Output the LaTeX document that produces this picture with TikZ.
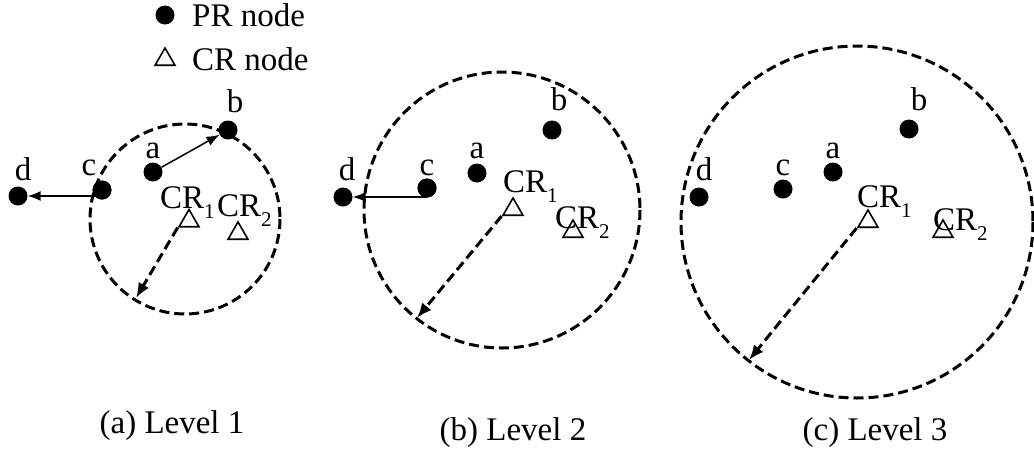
\documentclass[tikz,border=0pt]{standalone}
\usepackage{fontspec}
\setmainfont{Liberation Serif}
\usetikzlibrary{shapes.geometric,arrows.meta}
\newcommand{\Sb}[1]{\raisebox{-10pt}{\fontsize{21}{21}\selectfont #1}}
\begin{document}
\begin{tikzpicture}[x=1pt,y=-1pt,
  pr/.style={circle,fill=black,minimum size=19pt,inner sep=0pt},
  crn/.style={regular polygon,regular polygon sides=3,draw,line width=1.6pt,minimum size=23pt,inner sep=0pt},
  lbl/.style={inner sep=0pt,anchor=base,font=\fontsize{33}{38}\selectfont},
  lblw/.style={lbl,anchor=base west},
  rangecirc/.style={draw,line width=3pt,dash pattern=on 10pt off 5pt},
  move/.style={line width=1.5pt,-{Latex[length=13pt,width=10pt]}},
  radarrow/.style={line width=3pt,dash pattern=on 10pt off 5pt,-{Latex[length=15pt,width=12pt]}}]
\useasboundingbox (0,0) rectangle (1034,448);

% legend
\node[pr] (lgpr) at (165,15) {};
\node[lblw] (lgprt) at (192,26) {PR node};
\node[crn] (lgcr) at (165,59.5) {};
\node[lblw] (lgcrt) at (192,70) {CR node};

% ---------- panel (a)
\coordinate (oa) at (185,219);
\draw[rangecirc] (oa) circle[radius=95];
\coordinate (ea) at (136,298);
\node[crn] (a1) at (189,221) {};
\node[crn] (a2) at (238,233.5) {};
\node[pr] (aa) at (153,172) {};
\node[pr] (ab) at (228,130) {};
\node[pr] (ac) at (102,190) {};
\node[pr] (ad) at (18,196) {};
\draw[move] (aa) -- (ab);
\draw[move] (ac.center |- ad.center) -- (ad);
\draw[radarrow] (a1.corner 2) -- (ea);
\node[pr] at (ac) {};
\node[lbl] (aal) at (153,158) {a};
\node[lbl] (abl) at (235,112) {b};
\node[lbl] (acl) at (89,175) {c};
\node[lbl] (adl) at (23,180) {d};
\node[lblw] (a1l) at (160,208) {CR\Sb{1}};
\node[lblw] (a2l) at (217,216) {CR\Sb{2}};
\node[lbl] (capa) at (172,433) {(a) Level 1};

% ---------- panel (b)
\coordinate (ob) at (502,210);
\draw[rangecirc] (ob) circle[radius=138];
\coordinate (eb) at (417,318);
\node[crn] (b1) at (513,209.5) {};
\node[crn] (b2) at (573,231.5) {};
\node[pr] (ba) at (477,173) {};
\node[pr] (bb) at (552,130) {};
\node[pr] (bc) at (427,188) {};
\node[pr] (bd) at (343,197) {};
\draw[move] (bc.center |- bd.center) -- (bd);
\draw[radarrow] (b1.corner 2) -- (eb);
\node[pr] at (bc) {};
\node[lbl] (bal) at (477,158) {a};
\node[lbl] (bbl) at (559,110) {b};
\node[lbl] (bcl) at (427,175) {c};
\node[lbl] (bdl) at (347,180) {d};
\node[lblw] (b1l) at (503,192) {CR\Sb{1}};
\node[lblw] (b2l) at (555,228) {CR\Sb{2}};
\node[lbl] (capb) at (513,440) {(b) Level 2};

% ---------- panel (c)
\coordinate (oc) at (857,222);
\draw[rangecirc] (oc) circle[radius=176];
\coordinate (ec) at (749,360);
\node[crn] (c1) at (868,221.5) {};
\node[crn] (c2) at (943,231.5) {};
\node[pr] (ca) at (833,172) {};
\node[pr] (cb) at (909,129) {};
\node[pr] (cc) at (783,189) {};
\node[pr] (cd) at (699,197) {};
\draw[radarrow] (c1.corner 2) -- (ec);
\node[lbl] (cal) at (833,158) {a};
\node[lbl] (cbl) at (919,110) {b};
\node[lbl] (ccl) at (783,175) {c};
\node[lbl] (cdl) at (704,180) {d};
\node[lblw] (c1l) at (857,207) {CR\Sb{1}};
\node[lblw] (c2l) at (933,230) {CR\Sb{2}};
\node[lbl] (capc) at (875,440) {(c) Level 3};
\end{tikzpicture}
\end{document}
